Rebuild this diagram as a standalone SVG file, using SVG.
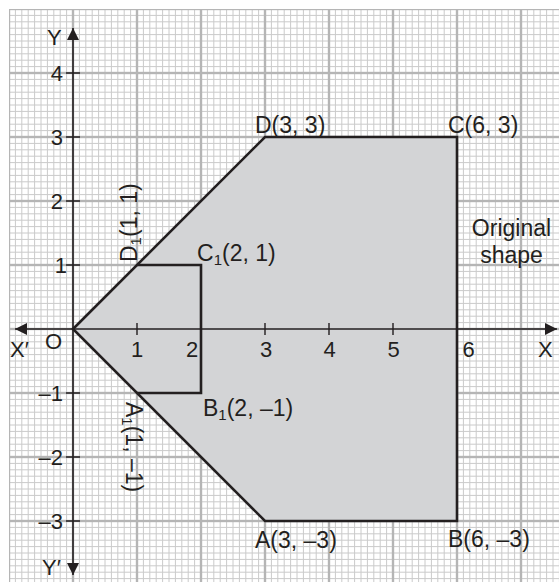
<svg xmlns="http://www.w3.org/2000/svg" width="559" height="582" viewBox="0 0 559 582">
  <style>
    text { font-family: "Liberation Sans", Arial, sans-serif; fill: #231f20; }
    .tick { font-size: 22px; }
    .lbl { font-size: 23px; }
    .sub { font-size: 15px; }
    .shape { fill: #d3d4d6; stroke: #231f20; stroke-width: 2.6; stroke-linejoin: miter; }
    .edge { fill: none; stroke: #231f20; stroke-width: 2.6; }
    .axis { stroke: #231f20; stroke-width: 1.6; fill: none; }
    .tk { stroke: #231f20; stroke-width: 1.4; }
  </style>
  <defs>
    <pattern id="grid" x="9" y="9" width="64" height="64" patternUnits="userSpaceOnUse">
      <path d="M6.4 0V64M12.8 0V64M19.2 0V64M25.6 0V64M32 0V64M38.4 0V64M44.8 0V64M51.2 0V64M57.6 0V64M0 6.4H64M0 12.8H64M0 19.2H64M0 25.6H64M0 32H64M0 38.4H64M0 44.8H64M0 51.2H64M0 57.6H64" stroke="#cacaca" stroke-width="1" fill="none"/>
      <rect x="0" y="0" width="1.2" height="64" fill="#b5b5b5"/>
      <rect x="62.8" y="0" width="1.2" height="64" fill="#b5b5b5"/>
      <rect x="0" y="0" width="64" height="1.2" fill="#b5b5b5"/>
      <rect x="0" y="62.8" width="64" height="1.2" fill="#b5b5b5"/>
    </pattern>
    <marker id="arr" markerUnits="userSpaceOnUse" markerWidth="13" markerHeight="13" refX="12" refY="6" orient="auto-start-reverse">
      <path d="M0 0L12 6L0 12Z" fill="#231f20"/>
    </marker>
  </defs>

  <rect x="0" y="0" width="559" height="582" fill="#ffffff"/>
  <rect id="graph-paper" x="9" y="9" width="550" height="573" fill="url(#grid)"/>

  <g id="original-shape">
    <polygon class="shape" points="73,329 265,137 457,137 457,521 265,521"/>
  </g>

  <g id="image-shape">
    <polyline class="edge" points="137,265 201,265 201,393 137,393"/>
  </g>

  <g id="connectors">
    <line class="axis" x1="15" y1="329" x2="557" y2="329" marker-start="url(#arr)" marker-end="url(#arr)"/>
    <line class="axis" x1="73" y1="28" x2="73" y2="575" marker-start="url(#arr)" marker-end="url(#arr)"/>
    <path class="tk" d="M137 323V335M265 323V335M329 323V335M393 323V335M66 73H80M66 137H80M66 201H80M66 265H80M66 393H80M66 457H80M66 521H80"/>
  </g>

  <g id="axis-labels">
    <text class="tick" x="47" y="45">Y</text>
    <text class="tick" x="42" y="575">Y′</text>
    <text class="tick" x="10" y="357">X′</text>
    <text class="tick" x="538" y="357">X</text>
    <text class="tick" x="45" y="349">O</text>
    <text class="tick" x="63" y="81" text-anchor="end">4</text>
    <text class="tick" x="63" y="145" text-anchor="end">3</text>
    <text class="tick" x="63" y="209" text-anchor="end">2</text>
    <text class="tick" x="67" y="273" text-anchor="end">1</text>
    <text class="tick" x="63" y="401" text-anchor="end">–1</text>
    <text class="tick" x="63" y="465" text-anchor="end">–2</text>
    <text class="tick" x="63" y="529" text-anchor="end">–3</text>
    <text class="tick" x="137" y="357" text-anchor="middle">1</text>
    <text class="tick" x="192" y="357" text-anchor="middle">2</text>
    <text class="tick" x="266" y="357" text-anchor="middle">3</text>
    <text class="tick" x="329.5" y="357" text-anchor="middle">4</text>
    <text class="tick" x="393.5" y="357" text-anchor="middle">5</text>
    <text class="tick" x="468.5" y="357" text-anchor="middle">6</text>
  </g>

  <g id="point-labels">
    <text class="lbl" x="255" y="133">D(3, 3)</text>
    <text class="lbl" x="448" y="133">C(6, 3)</text>
    <text class="lbl" x="255" y="548">A(3, –3)</text>
    <text class="lbl" x="448" y="547">B(6, –3)</text>
    <text class="lbl" x="197" y="261">C<tspan class="sub" dy="4">1</tspan><tspan dy="-4">(2, 1)</tspan></text>
    <text class="lbl" x="203" y="416">B<tspan class="sub" dy="4">1</tspan><tspan dy="-4">(2, –1)</tspan></text>
    <text class="lbl" transform="translate(137,262) rotate(-90)">D<tspan class="sub" dy="4">1</tspan><tspan dy="-4">(1, 1)</tspan></text>
    <text class="lbl" transform="translate(126,402) rotate(90)">A<tspan class="sub" dy="4">1</tspan><tspan dy="-4">(1, –1)</tspan></text>
    <text class="lbl" x="511.5" y="236" text-anchor="middle">Original</text>
    <text class="lbl" x="511.5" y="263" text-anchor="middle">shape</text>
  </g>
</svg>
